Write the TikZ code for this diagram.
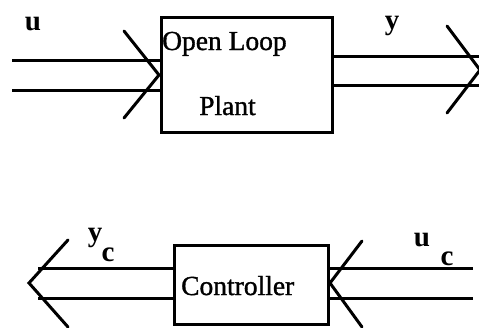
\documentclass[tikz,border=0pt]{standalone}
\usepackage{fontspec}
\setmainfont{Liberation Serif}
\newfontfamily\boxfont[FakeBold=1.2]{Liberation Serif}
\begin{document}
\begin{tikzpicture}[x=1pt,y=-1pt,
  ln/.style={line width=3pt},
  lbl/.style={font=\bfseries\fontsize{29}{29}\selectfont,inner sep=0pt},
  txt/.style={font=\boxfont\fontsize{27.5}{28}\selectfont,inner sep=0pt}]
\useasboundingbox (0,0) rectangle (479,327);
% plant
\node[draw,line width=3pt,minimum width=171pt,minimum height=115pt,inner sep=0pt] (plant) at (246.5,74.5) {};
\node[txt,anchor=base west] (ol) at (162,50) {Open Loop};
\node[txt,anchor=base west] (pl) at (199,115) {Plant};
\coordinate (ia) at (12,60);
\coordinate (ib) at (12,90);
\coordinate (ta) at (plant.west |- ia);
\coordinate (tb) at (plant.west |- ib);
\draw[ln] (ia) -- (ta);
\draw[ln] (ib) -- (tb);
\coordinate (itip) at (159,75);
\coordinate (iu) at (124,31);
\coordinate (id) at (124,118);
\draw[ln,line cap=round] (iu) -- (itip) -- (id);
\coordinate (oa) at (479,56);
\coordinate (ob) at (479,85);
\draw[ln] (plant.east |- oa) -- (oa);
\draw[ln] (plant.east |- ob) -- (ob);
\coordinate (otip) at (480,70);
\coordinate (ou) at (447,26);
\coordinate (od) at (447,113);
\draw[ln,line cap=round] (ou) -- (otip) -- (od);
\node[lbl,anchor=base] (u) at (33,30) {u};
\node[lbl,anchor=base] (y) at (392,29) {y};
% controller
\node[draw,line width=3pt,minimum width=154pt,minimum height=79pt,inner sep=0pt] (ctl) at (251,284.5) {};
\node[txt,anchor=base west] (ct) at (181,295) {Controller};
\coordinate (ca) at (38,268);
\coordinate (cb) at (38,298);
\draw[ln] (ctl.west |- ca) -- (ca);
\draw[ln] (ctl.west |- cb) -- (cb);
\coordinate (ctip) at (29,283);
\coordinate (cu) at (68,240);
\coordinate (cd) at (68,327);
\draw[ln,line cap=round] (cu) -- (ctip) -- (cd);
\coordinate (da) at (473,268);
\coordinate (db) at (473,298);
\draw[ln] (ctl.east |- da) -- (da);
\draw[ln] (ctl.east |- db) -- (db);
\coordinate (dtip) at (330,283);
\coordinate (du) at (362,241);
\coordinate (dd) at (362,327);
\draw[ln,line cap=round] (du) -- (dtip) -- (dd);
\node[lbl,anchor=base] (yc) at (95,241) {y};
\node[lbl,anchor=base] (ycc) at (108,261) {c};
\node[lbl,anchor=base] (uc) at (422,246) {u};
\node[lbl,anchor=base] (ucc) at (447,265) {c};
\end{tikzpicture}
\end{document}
